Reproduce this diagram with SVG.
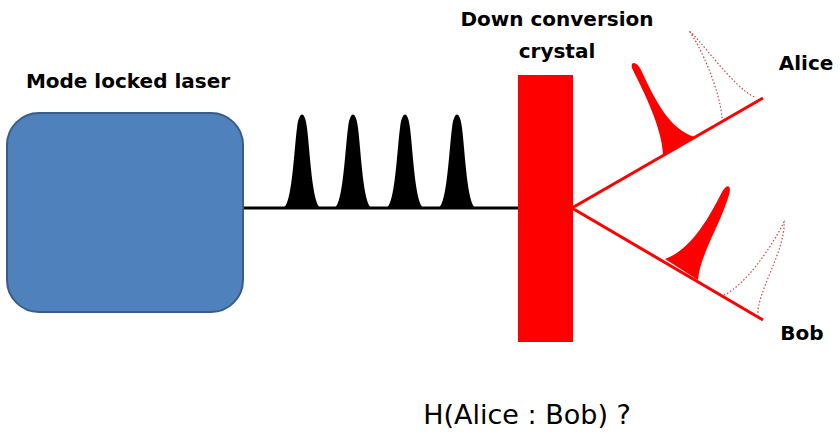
<svg xmlns="http://www.w3.org/2000/svg" width="840" height="440" viewBox="0 0 840 440">
<style>
.lbl{font-family:"DejaVu Sans","Liberation Sans",sans-serif;font-weight:bold;font-size:20px;fill:#000;text-anchor:middle}
.pulse{fill:#000}
.ph{fill:#f00}
.dot{fill:none;stroke:#c44;stroke-width:1.2;stroke-dasharray:1.5 2}
</style>
<rect width="840" height="440" fill="#fff"/>
<g id="connectors">
<line x1="243" y1="208" x2="520" y2="208" stroke="#000" stroke-width="3"/>
<polyline points="763,98 572,208 763,320" fill="none" stroke="#f00" stroke-width="3"/>
</g>
<g id="laser">
<rect x="7" y="113" width="236" height="199" rx="32" fill="#4f81bd" stroke="#385d8a" stroke-width="2"/>
<text class="lbl" x="128" y="88">Mode locked laser</text>
</g>
<g id="pulses">
<path class="pulse" d="M283,208 C292,206 294,150 297,128 C299,110 305,110 307,128 C310,150 312,206 321,208 Z"/>
<path class="pulse" d="M334,208 C343,206 345,150 348,128 C350,110 356,110 358,128 C361,150 363,206 372,208 Z"/>
<path class="pulse" d="M386,208 C395,206 397,150 400,128 C402,110 408,110 410,128 C413,150 415,206 424,208 Z"/>
<path class="pulse" d="M438,208 C447,206 449,150 452,128 C454,110 460,110 462,128 C465,150 467,206 476,208 Z"/>
</g>
<g id="crystal">
<rect x="518" y="75" width="55" height="267" fill="#f00"/>
<text class="lbl" x="557" y="26">Down conversion</text>
<text class="lbl" x="557" y="58">crystal</text>
</g>
<g id="alice">
<path class="ph" d="M663,155 C662,125 640,85 632,68 C630,60 638,62 642,72 C655,100 670,130 695,137 Z"/>
<path class="dot" d="M722,118 C720,90 700,45 689,31 C697,35 735,90 755,97"/>
<text class="lbl" x="806" y="70">Alice</text>
</g>
<g id="bob">
<path class="ph" d="M665,259 C690,250 708,220 722,192 C727,183 732,185 729,195 C720,225 700,255 698,280 Z"/>
<path class="dot" d="M724,295 C745,285 770,250 784,222 C786,250 755,295 758,317"/>
<text class="lbl" x="802" y="340">Bob</text>
</g>
<text x="527" y="424" font-family="DejaVu Sans,sans-serif" font-size="27" text-anchor="middle">H(Alice : Bob) ?</text>
</svg>
